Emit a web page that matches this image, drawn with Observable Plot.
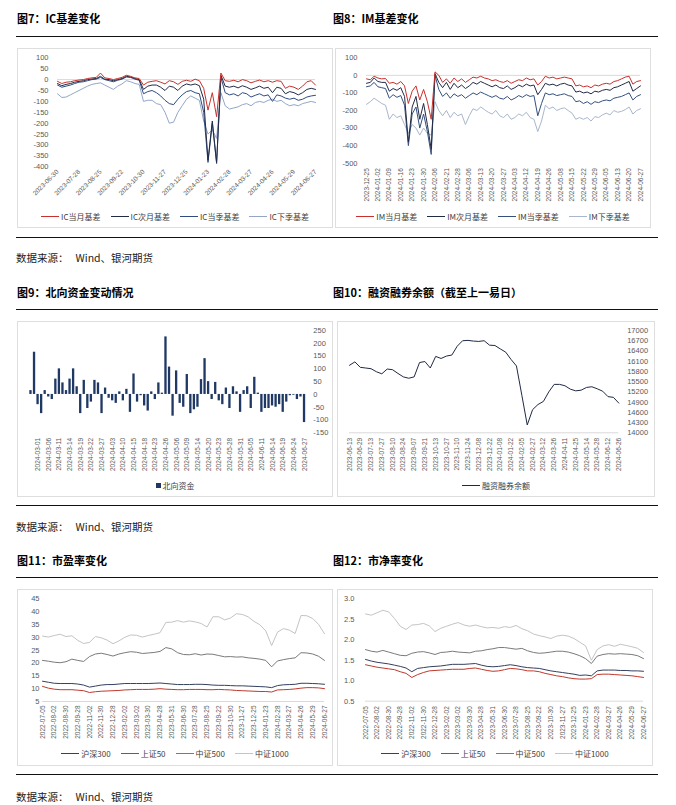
<!DOCTYPE html>
<html><head><meta charset="utf-8">
<script src="https://cdn.jsdelivr.net/npm/d3@7"></script>
<script src="https://cdn.jsdelivr.net/npm/@observablehq/plot@0.6"></script>
<style>
body{margin:0;background:#fff;}
#page{position:relative;width:676px;height:805px;overflow:hidden;font-family:"Noto Sans CJK SC","Liberation Sans",sans-serif;}
.title{position:absolute;font-size:11px;font-weight:bold;color:#000;white-space:nowrap;line-height:14px;}
.rule{position:absolute;left:16px;width:642px;height:0;border-top:1.4px solid #111;}
.src{position:absolute;left:16px;font-size:10.5px;color:#222;white-space:nowrap;line-height:14px;}
.box{position:absolute;border:1px solid #dedede;box-sizing:border-box;}
.plot{position:absolute;}
.legend{position:absolute;height:12px;display:flex;justify-content:center;align-items:center;font-size:8px;color:#404040;white-space:nowrap;}
.item{display:flex;align-items:center;margin:0 5px;}
.sw{display:inline-block;width:18px;height:0;border-top:1.6px solid;margin-right:2px;}
.sq{display:inline-block;width:5px;height:5px;margin-right:2px;}
</style></head>
<body><div id="page"></div>
<script>
// ---------------- DATA ----------------
const icLabels = ["2023-06-30","2023-07-28","2023-08-25","2023-09-22","2023-10-30","2023-11-27","2023-12-25","2024-01-23","2024-02-28","2024-03-27","2024-04-26","2024-05-29","2024-06-27"];
const icCurrent = [-8,-18,-12,-10,-5,-2,0,5,8,10,30,8,5,0,5,10,20,15,8,5,-25,-12,-8,-5,-12,-20,-5,-10,-22,-8,-3,-8,2,-5,-40,-140,-60,-170,30,-5,-8,-3,-10,0,-5,-15,-8,-2,-10,-5,-12,-5,-8,-40,-30,-35,-45,-30,-10,-5,-25];
const icNext = [-18,-28,-22,-18,-12,-8,-5,0,3,5,15,2,0,-5,0,5,15,12,5,0,-45,-30,-25,-25,-35,-50,-30,-35,-50,-30,-20,-25,-20,-28,-90,-370,-190,-380,20,-30,-35,-30,-38,-28,-35,-45,-38,-30,-40,-35,-60,-35,-40,-65,-55,-60,-70,-60,-45,-40,-45];
const icQuarter = [-25,-35,-30,-25,-18,-12,-10,-5,0,2,10,0,-5,-10,-3,2,12,10,2,-3,-65,-55,-50,-60,-75,-95,-110,-115,-90,-70,-55,-50,-60,-65,-150,-380,-200,-385,10,-60,-70,-65,-75,-60,-65,-80,-72,-65,-75,-70,-100,-70,-75,-85,-90,-85,-95,-90,-80,-75,-72];
const icNextQuarter = [-65,-82,-80,-70,-60,-50,-40,-30,-22,-18,-15,-25,-35,-45,-30,-20,-5,-10,-18,-22,-100,-95,-95,-110,-115,-150,-200,-195,-150,-120,-90,-75,-85,-95,-190,-250,-230,-270,-60,-120,-135,-130,-125,-115,-110,-120,-105,-100,-105,-95,-90,-100,-95,-110,-120,-115,-120,-110,-105,-100,-105];
const icNames = ["IC当月基差","IC次月基差","IC当季基差","IC下季基差"];

const imLabels = ["2023-12-25","2024-01-02","2024-01-09","2024-01-16","2024-01-23","2024-01-30","2024-02-06","2024-02-21","2024-02-28","2024-03-06","2024-03-13","2024-03-20","2024-03-27","2024-04-03","2024-04-12","2024-04-19","2024-04-26","2024-05-08","2024-05-15","2024-05-22","2024-05-29","2024-06-05","2024-06-13","2024-06-20","2024-06-27"];
const imCurrent = [-20,-25,-5,-15,-20,-18,-45,-40,-50,-35,-60,-160,-90,-60,-140,-80,-150,-250,20,0,-40,-20,-45,-15,-35,-20,-40,-25,-10,-15,-5,-15,-20,-30,-25,-35,-40,-30,-45,-35,-25,-30,-15,-25,-20,-55,-35,-5,-15,-10,-20,-15,-10,-15,-20,-60,-55,-65,-60,-70,-55,-60,-50,-45,-50,-35,-30,-20,-10,-5,-50,-35,-30];
const imNext = [-45,-40,-15,-35,-40,-40,-90,-75,-85,-70,-120,-380,-180,-120,-250,-160,-280,-420,10,-40,-70,-40,-80,-45,-70,-55,-75,-60,-40,-50,-35,-45,-55,-65,-55,-70,-75,-60,-80,-70,-55,-65,-50,-60,-55,-110,-80,-45,-55,-50,-60,-50,-45,-55,-60,-95,-90,-100,-95,-105,-90,-95,-85,-80,-85,-70,-65,-55,-45,-35,-90,-75,-60];
const imQuarter = [-65,-60,-40,-65,-70,-75,-130,-110,-125,-115,-170,-400,-220,-180,-300,-220,-320,-450,0,-80,-120,-100,-130,-105,-120,-110,-130,-115,-100,-110,-95,-105,-115,-125,-115,-130,-135,-120,-140,-130,-115,-125,-110,-120,-115,-230,-160,-100,-110,-105,-115,-110,-105,-115,-120,-150,-145,-160,-150,-165,-150,-155,-145,-140,-145,-130,-125,-120,-110,-100,-140,-120,-110];
const imNextQuarter = [-165,-150,-130,-145,-160,-170,-250,-220,-240,-230,-280,-330,-280,-300,-340,-300,-330,-340,-150,-200,-230,-200,-240,-210,-230,-220,-280,-230,-190,-200,-180,-195,-210,-220,-200,-230,-240,-220,-250,-240,-220,-230,-210,-240,-250,-320,-260,-170,-190,-180,-200,-190,-185,-200,-215,-250,-240,-250,-240,-260,-235,-240,-225,-215,-225,-200,-210,-205,-195,-180,-220,-200,-190];
const imNames = ["IM当月基差","IM次月基差","IM当季基差","IM下季基差"];

const nbDates = ["2024-02-28","2024-02-29","2024-03-01","2024-03-04","2024-03-05","2024-03-06","2024-03-07","2024-03-08","2024-03-11","2024-03-12","2024-03-13","2024-03-14","2024-03-15","2024-03-18","2024-03-19","2024-03-20","2024-03-21","2024-03-22","2024-03-25","2024-03-26","2024-03-27","2024-03-28","2024-04-02","2024-04-03","2024-04-08","2024-04-09","2024-04-10","2024-04-11","2024-04-12","2024-04-15","2024-04-16","2024-04-17","2024-04-18","2024-04-19","2024-04-22","2024-04-23","2024-04-24","2024-04-25","2024-04-26","2024-04-29","2024-04-30","2024-05-06","2024-05-07","2024-05-08","2024-05-09","2024-05-10","2024-05-13","2024-05-14","2024-05-16","2024-05-17","2024-05-20","2024-05-21","2024-05-22","2024-05-23","2024-05-24","2024-05-27","2024-05-28","2024-05-29","2024-05-30","2024-05-31","2024-06-03","2024-06-04","2024-06-05","2024-06-06","2024-06-07","2024-06-11","2024-06-12","2024-06-13","2024-06-14","2024-06-17","2024-06-18","2024-06-19","2024-06-20","2024-06-21","2024-06-24","2024-06-25","2024-06-26","2024-06-27"];
const nbFlow = [15,165,-40,-75,15,-10,-20,60,100,45,15,60,100,30,-75,55,-55,-30,55,45,-75,25,-15,-25,-35,10,-25,20,-70,80,-30,-5,-45,-65,10,-20,45,5,225,107,-85,92,-35,-50,78,-75,-60,-50,58,140,50,-20,47,-25,-40,25,-55,30,10,-70,15,30,-55,67,5,-70,-55,-55,-45,-50,-40,-70,-30,-5,-3,-20,-10,-110];
const nbTickLabels = ["2024-03-01","2024-03-06","2024-03-11","2024-03-14","2024-03-19","2024-03-22","2024-03-27","2024-04-03","2024-04-10","2024-04-15","2024-04-18","2024-04-23","2024-04-26","2024-05-06","2024-05-09","2024-05-14","2024-05-20","2024-05-23","2024-05-28","2024-05-31","2024-06-05","2024-06-11","2024-06-14","2024-06-19","2024-06-24","2024-06-27"];

const mgLabels = ["2023-06-13","2023-06-29","2023-07-13","2023-07-27","2023-08-10","2023-08-24","2023-09-07","2023-09-21","2023-10-13","2023-10-27","2023-11-10","2023-11-24","2023-12-08","2023-12-22","2024-01-08","2024-01-22","2024-02-05","2024-02-27","2024-03-12","2024-03-26","2024-04-11","2024-04-25","2024-05-14","2024-05-28","2024-06-12","2024-06-26"];
const mgBalance = [15980,16080,15920,15900,15880,15790,15730,15870,15850,15740,15640,15600,15640,16060,16090,15900,16240,16180,16250,16280,16540,16700,16710,16690,16680,16700,16570,16560,16460,16365,16150,15960,15100,14230,14680,14830,14920,15200,15420,15420,15380,15280,15230,15250,15330,15350,15290,15220,15060,15040,14870];

const valLabels = ["2022-07-05","2022-08-02","2022-08-30","2022-09-28","2022-11-02","2022-11-30","2022-12-28","2023-02-02","2023-03-02","2023-03-30","2023-04-28","2023-05-31","2023-06-30","2023-07-28","2023-08-25","2023-09-22","2023-10-30","2023-11-27","2023-12-25","2024-01-23","2024-02-28","2024-03-27","2024-04-26","2024-05-29","2024-06-27"];
const idxNames = ["沪深300","上证50","中证500","中证1000"];
const peHS300 = [12.9,12.5,12.1,12.0,12.0,12.0,11.8,11.4,10.6,11.0,11.4,11.6,11.6,11.8,12.0,12.0,12.0,12.0,12.0,12.1,12.2,12.0,11.8,11.6,11.6,11.6,11.7,11.7,11.6,11.4,11.3,11.3,11.2,11.1,11.1,11.0,10.9,10.8,10.7,10.4,11.2,11.5,11.6,11.7,12.1,12.1,12.0,11.9,11.7];
const peSZ50 = [10.9,10.2,9.8,9.6,9.6,9.6,9.4,9.2,8.5,8.8,9.0,9.1,9.2,9.3,9.5,9.6,9.7,9.7,9.7,9.8,10.0,9.8,9.7,9.6,9.6,9.7,9.7,9.7,9.6,9.6,9.7,9.6,9.5,9.3,9.2,9.1,9.0,8.9,8.9,8.7,9.5,9.6,9.7,9.9,10.2,10.4,10.4,10.3,10.0];
const peZZ500 = [21.0,20.7,20.3,20.1,20.5,21.5,21.0,20.6,22.5,23.5,23.8,23.3,22.7,23.5,24.0,24.4,24.2,23.7,23.9,24.1,24.5,26.0,25.5,24.0,23.3,23.2,23.6,23.1,23.5,23.4,22.9,22.4,22.5,22.3,22.4,22.0,21.8,21.5,21.0,18.5,20.8,21.3,21.7,22.0,24.0,23.9,23.5,22.6,21.0];
const peZZ1000 = [30.5,30.1,30.7,31.2,30.3,30.6,28.8,27.6,28.0,30.3,29.8,28.9,27.5,28.6,30.0,30.9,30.8,30.1,30.7,31.2,31.8,35.8,35.9,36.5,35.9,36.4,36.0,35.4,34.0,38.0,38.0,36.8,37.5,39.2,38.9,38.0,36.2,34.9,32.5,26.8,32.0,33.4,32.8,31.5,38.5,38.4,37.3,35.0,31.4];
const pbHS300 = [1.52,1.48,1.45,1.43,1.41,1.38,1.35,1.31,1.22,1.30,1.32,1.34,1.35,1.36,1.38,1.40,1.40,1.40,1.41,1.42,1.38,1.35,1.34,1.35,1.37,1.39,1.37,1.34,1.32,1.31,1.30,1.27,1.24,1.22,1.20,1.18,1.16,1.13,1.14,1.12,1.24,1.26,1.26,1.26,1.25,1.25,1.24,1.24,1.23];
const pbSZ50 = [1.39,1.36,1.33,1.31,1.29,1.27,1.22,1.18,1.08,1.15,1.20,1.24,1.25,1.26,1.27,1.28,1.28,1.28,1.30,1.31,1.28,1.25,1.23,1.24,1.27,1.30,1.29,1.27,1.24,1.24,1.22,1.18,1.15,1.12,1.10,1.07,1.05,1.04,1.04,1.05,1.15,1.16,1.16,1.15,1.14,1.13,1.12,1.10,1.08];
const pbZZ500 = [1.76,1.72,1.70,1.74,1.70,1.66,1.62,1.61,1.67,1.70,1.71,1.68,1.64,1.69,1.70,1.72,1.70,1.69,1.68,1.72,1.73,1.76,1.78,1.81,1.81,1.79,1.77,1.79,1.73,1.69,1.67,1.68,1.70,1.72,1.72,1.70,1.66,1.61,1.54,1.42,1.60,1.64,1.66,1.65,1.66,1.65,1.64,1.61,1.54];
const pbZZ1000 = [2.63,2.60,2.66,2.72,2.68,2.52,2.33,2.25,2.36,2.37,2.40,2.34,2.20,2.28,2.33,2.38,2.42,2.36,2.33,2.36,2.32,2.29,2.30,2.28,2.32,2.30,2.35,2.27,2.22,2.14,2.10,2.07,2.03,2.09,2.11,2.09,2.03,1.94,1.85,1.50,1.76,1.85,1.88,1.84,1.89,1.86,1.83,1.79,1.69];

// ---------------- LAYOUT ----------------
const page = document.getElementById("page");
const FONT = "'Liberation Sans', Arial, sans-serif";
function el(cls, css, html) {
  const d = document.createElement("div");
  d.className = cls; Object.assign(d.style, css); if (html != null) d.innerHTML = html;
  page.appendChild(d); return d;
}
function legend(left, top, width, items, square) {
  const lg = el("legend", {left: left + "px", top: top + "px", width: width + "px"});
  items.forEach(([name, color]) => {
    const it = document.createElement("span"); it.className = "item";
    it.innerHTML = square
      ? `<span class="sq" style="background:${color}"></span>${name}`
      : `<span class="sw" style="border-color:${color}"></span>${name}`;
    lg.appendChild(it);
  });
}
function place(node, left, top) {
  const d = el("plot", {left: left + "px", top: top + "px"}); d.appendChild(node);
}
function lineChart(o) {
  const n = o.labels.length - 1;
  const marks = [
    Plot.ruleY([o.base], {stroke: "#d9d9d9", strokeWidth: 1}),
    Plot.axisY({anchor: o.yAnchor || "left", ticks: o.yTicks, tickFormat: o.yFmt, tickSize: 0, tickPadding: o.yPad, fontSize: 7.5, label: null}),
    Plot.axisX({ticks: d3.range(n + 1), tickFormat: j => o.labels[j], tickRotate: o.rotate, tickSize: 0, tickPadding: o.xPad, fontSize: 6.5, label: null})
  ];
  for (let s = o.series.length - 1; s >= 0; s--) {
    const vals = o.series[s];
    const k = (vals.length - 1) / n;
    marks.push(Plot.line(vals.map((v, i) => ({x: i / k, y: v})), {x: "x", y: "y", stroke: o.colors[s], strokeWidth: o.sw || 1}));
  }
  return Plot.plot({
    width: o.width, height: o.height, marginTop: o.mt, marginBottom: o.mb, marginLeft: o.ml, marginRight: o.mr,
    style: {fontFamily: FONT, color: "#595959", background: "transparent", overflow: "visible"},
    x: {domain: [0, n], label: null}, y: {domain: o.yDomain, label: null}, marks
  });
}
const hy = d => String(d);

// Row rules, titles, sources
[36, 237, 309, 505, 577, 774].forEach(y => el("rule", {top: y + "px"}));
[[17, 11, "图7：IC基差变化"], [333, 11, "图8：IM基差变化"],
 [17, 285, "图9：北向资金变动情况"], [333, 285, "图10：融资融券余额（截至上一易日）"],
 [17, 553, "图11：市盈率变化"], [333, 553, "图12：市净率变化"]]
  .forEach(([x, y, t]) => el("title", {left: x + "px", top: y + "px"}, t));
[251, 520, 790].forEach(y => el("src", {top: y + "px"}, "数据来源：&nbsp;&nbsp;&nbsp;Wind、银河期货"));

// Boxes
[[17, 48, 316, 180], [335, 48, 316, 180], [17, 321, 316, 176], [337, 321, 318, 176], [17, 589, 316, 177], [337, 589, 316, 177]]
  .forEach(([x, y, w, h]) => el("box", {left: x + "px", top: y + "px", width: w + "px", height: h + "px"}));

// Chart 7 IC
const icColors = ["#C8312E", "#222B45", "#2E4C80", "#93A6C8"];
place(lineChart({labels: icLabels, series: [icCurrent, icNext, icQuarter, icNextQuarter], colors: icColors,
  yDomain: [-400, 100], yTicks: d3.range(-400, 101, 50), yFmt: hy, base: 0,
  width: 316, height: 160, mt: 9.3, mb: 41.7, ml: 40, mr: 18, yPad: 9, xPad: 4, rotate: -45}), 17, 48);
legend(17, 210, 316, icNames.map((n, i) => [n, icColors[i]]));

// Chart 8 IM
const imColors = ["#C8312E", "#222B45", "#34507F", "#A9B6CC"];
place(lineChart({labels: imLabels, series: [imCurrent, imNext, imQuarter, imNextQuarter], colors: imColors,
  yDomain: [-500, 100], yTicks: d3.range(-500, 101, 100), yFmt: hy, base: 0,
  width: 316, height: 160, mt: 9.3, mb: 45.3, ml: 31, mr: 11, yPad: 9, xPad: 5, rotate: -90}), 335, 48);
legend(335, 210, 316, imNames.map((n, i) => [n, imColors[i]]));

// Chart 9 northbound bars
const nbRows = nbFlow.map((v, i) => ({date: nbDates[i], v}));
place(Plot.plot({
  width: 316, height: 157, marginTop: 9, marginBottom: 45.7, marginLeft: 11.7, marginRight: 27.2,
  style: {fontFamily: FONT, color: "#595959", background: "transparent", overflow: "visible"},
  x: {type: "band", domain: nbDates, paddingInner: 0.35, paddingOuter: 0.175, label: null},
  y: {domain: [-150, 250], label: null},
  marks: [
    Plot.axisY({anchor: "right", ticks: d3.range(-150, 251, 50), tickFormat: hy, tickSize: 0, tickPadding: 7, fontSize: 7.5, label: null}),
    Plot.axisX({ticks: nbTickLabels, tickRotate: -90, tickSize: 0, tickPadding: 5, fontSize: 6.5, label: null}),
    Plot.barY(nbRows, {x: "date", y: "v", fill: "#1F3864"})
  ]
}), 17, 321);
legend(17, 479, 316, [["北向资金", "#1F3864"]], true);

// Chart 10 margin balance
place(lineChart({labels: mgLabels, series: [mgBalance], colors: ["#1F2A44"],
  yDomain: [14000, 17000], yTicks: d3.range(14000, 17001, 300), yFmt: hy, base: 14000, yAnchor: "right",
  width: 318, height: 157, mt: 9, mb: 45.7, ml: 12, mr: 36.7, yPad: 8.4, xPad: 5, rotate: -90}), 337, 321);
legend(337, 479, 318, [["融资融券余额", "#1F2A44"]]);

// Chart 11 PE
const idxColors = ["#34405E", "#C0392B", "#7A7A7A", "#C4C4C4"];
place(lineChart({labels: valLabels, series: [peHS300, peSZ50, peZZ500, peZZ1000], colors: idxColors,
  yDomain: [5, 45], yTicks: d3.range(5, 46, 5), yFmt: hy, base: 5,
  width: 316, height: 157, mt: 9.3, mb: 45, ml: 25, mr: 9, yPad: 3, xPad: 4, rotate: -90}), 17, 589);
legend(17, 747, 316, idxNames.map((n, i) => [n, idxColors[i]]));

// Chart 12 PB
place(lineChart({labels: valLabels, series: [pbHS300, pbSZ50, pbZZ500, pbZZ1000], colors: idxColors,
  yDomain: [0.5, 3.0], yTicks: [0.5, 1.0, 1.5, 2.0, 2.5, 3.0], yFmt: d => d.toFixed(1), base: 0.5,
  width: 316, height: 157, mt: 9.3, mb: 45.3, ml: 28, mr: 10, yPad: 11, xPad: 5, rotate: -90}), 337, 589);
legend(337, 747, 316, idxNames.map((n, i) => [n, idxColors[i]]));
</script>
</body></html>
